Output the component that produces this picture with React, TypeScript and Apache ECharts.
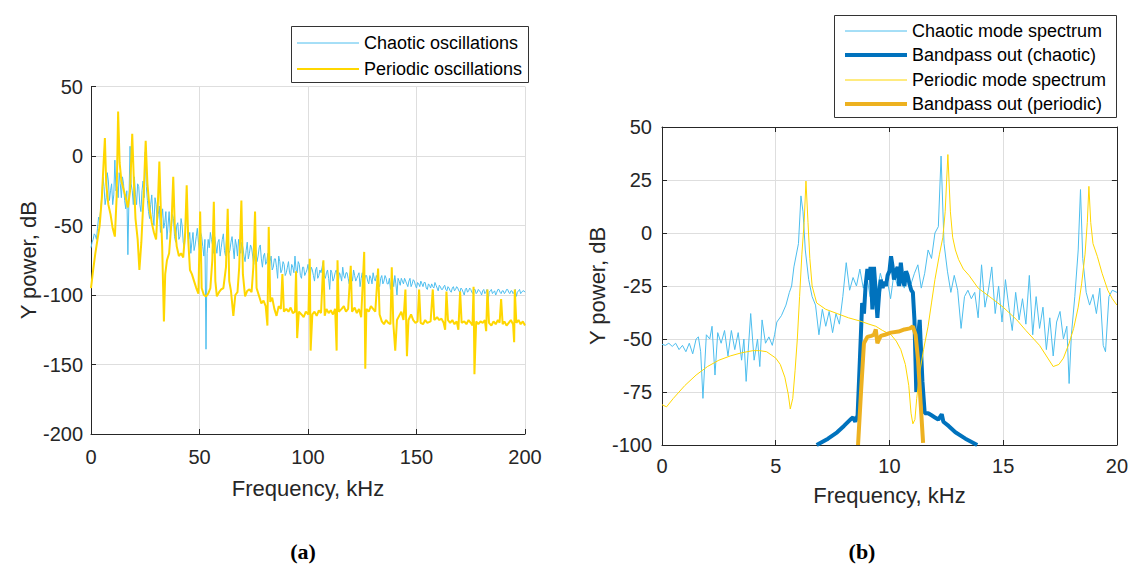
import React, { useEffect, useRef } from "react";
import * as echarts from "echarts";

// ---------- Panel (a): 0–200 kHz ----------
// chaotic spectrum sampled at whole kHz (0..200) and at half kHz (0.5..199.5)
const chaoticA = [
  -66, -60, -57, -52, -46, -28, -22, -30, -18, -25, -35, -3, -22, -12, -30, -20, -38, -71, 7, -25,
  -15, -35, -22, -40, -18, 3, -32, -45, -28, -50, -35, -42, -55, -38, -48, -60, -40, -52, -45, -62,
  -48, -58, -50, -66, -32, -60, -70, -55, -64, -52, -68, -58, -72, -139, -60, -55, -64, -58, -70, -60,
  -66, -56, -72, -62, -68, -58, -74, -64, -60, -70, -66, -76, -62, -70, -66, -78, -68, -72, -64, -80,
  -70, -76, -84, -72, -80, -74, -88, -76, -82, -78, -84, -76, -86, -80, -72, -84, -78, -88, -80, -84,
  -78, -86, -82, -90, -80, -86, -84, -76, -88, -82, -96, -84, -88, -82, -90, -86, -80, -88, -84, -92,
  -86, -82, -90, -86, -94, -84, -90, -86, -92, -88, -84, -90, -88, -94, -86, -90, -88, -92, -96, -88,
  -86, -100, -90, -88, -92, -90, -94, -88, -92, -90, -95, -92, -90, -94, -91, -96, -93, -92, -95, -93,
  -97, -94, -96, -93, -97, -95, -98, -94, -96, -95, -98, -96, -100, -95, -97, -96, -99, -96, -98, -97,
  -100, -96, -98, -104, -97, -99, -97, -98, -96, -99, -97, -98, -96, -99, -97, -98, -101, -97, -99, -97,
  -98,
];
const chaoticAHalf = [
  -62, -56, -60, -44, -38, -15, -35, -12, -32, -20, -28, -25, -30, -20, -15, -32, -25, -30, -20, -35,
  -28, -20, -35, -25, -30, -22, -40, -35, -42, -30, -48, -36, -45, -52, -40, -50, -55, -42, -58, -50,
  -60, -45, -62, -55, -50, -55, -62, -68, -58, -62, -55, -65, -60, -70, -66, -60, -70, -64, -62, -72,
  -60, -68, -58, -70, -62, -66, -60, -72, -66, -62, -72, -68, -74, -64, -72, -70, -76, -66, -74, -72,
  -78, -70, -76, -82, -74, -80, -72, -84, -76, -86, -80, -84, -78, -84, -82, -76, -86, -80, -86, -82,
  -84, -80, -86, -82, -88, -82, -80, -86, -84, -88, -82, -90, -84, -86, -84, -90, -86, -84, -88, -84,
  -90, -86, -88, -84, -88, -92, -86, -90, -86, -92, -88, -86, -92, -88, -92, -86, -92, -88, -90, -94,
  -92, -88, -93, -90, -88, -92, -90, -94, -89, -93, -91, -94, -92, -91, -95, -92, -95, -94, -91, -95,
  -93, -96, -94, -96, -94, -97, -95, -97, -94, -97, -95, -98, -96, -98, -95, -98, -96, -99, -96, -98,
  -97, -99, -96, -98, -96, -98, -100, -96, -98, -97, -99, -96, -98, -97, -99, -96, -98, -96, -98, -97,
];

const periodicA = [
  [0, -95], [1, -82], [2, -70], [3, -60], [4, -50], [5, -30], [5.8, -5], [6.4, 13], [7, -20], [8, -35],
  [9, -42], [10, -52], [11, -58], [11.8, -30], [12.5, 32], [13.2, -5], [14, -18], [15, -24], [16, -30],
  [17, -37], [18, -25], [19, 16], [19.8, -20], [20.5, -45], [21.5, -60], [22.3, -82], [23.2, -62],
  [24.2, -30], [25.2, 11], [26, -20], [27, -38], [28, -48], [29, -55], [30, -60], [30.8, -35], [31.5, -4],
  [32.2, -40], [32.8, -65], [33.6, -119], [34.2, -85], [35, -75], [36, -70], [37.2, -45], [37.9, -15],
  [38.6, -50], [39.5, -65], [40.5, -72], [41.5, -70], [42.5, -73], [43.4, -55], [44.1, -21], [44.8, -60],
  [45.6, -82], [46.5, -85], [47.5, -90], [48.5, -95], [49.5, -99], [50.3, -40], [51, -95], [52, -100],
  [53, -101], [54, -99], [55, -95], [55.9, -75], [56.6, -33], [57.3, -90], [58, -101], [59, -98],
  [60, -96], [61, -95], [62.2, -80], [63, -38], [63.7, -90], [64.5, -97], [65.6, -115], [66.5, -100],
  [67.5, -98], [68.3, -80], [69.3, -32], [70, -85], [71, -101], [72, -97], [73, -96], [74, -98],
  [74.8, -80], [75.6, -40], [76.3, -95], [77.5, -101], [78.5, -106], [79.5, -104], [80.5, -108],
  [81.3, -122], [81.9, -51], [82.6, -105], [83.5, -102], [84.5, -110], [85.5, -115], [86.5, -108],
  [87.5, -110], [88.2, -85], [88.9, -112], [90, -110], [91, -112], [92, -109], [93, -113], [94, -112],
  [94.5, -83], [95, -131], [95.8, -112], [97, -114], [98, -116], [99, -112], [100.2, -114], [100.8, -74],
  [101.2, -140], [102, -114], [103, -112], [104, -115], [105, -111], [106, -113], [107.1, -75],
  [107.7, -115], [108.5, -110], [109.5, -113], [110.5, -111], [111.5, -114], [112.5, -110], [113.2, -140],
  [113.6, -75], [114.2, -112], [115.5, -110], [116.5, -108], [117.5, -112], [118.5, -110], [119.7, -79],
  [120.3, -112], [121.5, -109], [122.5, -113], [123.5, -110], [124.5, -116], [125.9, -69], [126.4, -153],
  [126.9, -110], [128, -112], [129, -108], [130, -110], [131, -112], [132.3, -81], [133, -114], [134, -119],
  [135, -121], [136, -118], [137, -120], [138, -121], [138.6, -80], [139.3, -120], [140.2, -140],
  [141, -118], [142, -115], [143, -112], [144, -118], [144.9, -96], [145.6, -144], [146.3, -118],
  [147.5, -114], [148.5, -118], [149.5, -120], [150.5, -119], [151.2, -96], [151.9, -120], [153, -121],
  [154, -118], [155, -120], [156.5, -119], [157.5, -96], [158.2, -118], [159.5, -116], [160.5, -118],
  [161.5, -117], [162.5, -120], [163.2, -125], [163.8, -97.5], [164.5, -118], [165.5, -120], [166.5, -118],
  [167.5, -121], [168.5, -119], [169.3, -125], [170.1, -97.5], [170.8, -120], [172, -119], [173, -121],
  [174, -118], [175, -120], [175.8, -122], [176.3, -94], [176.7, -157], [177.5, -119], [178.5, -121],
  [179.5, -119], [180.5, -120], [181.5, -118], [182.1, -126], [182.7, -96], [183.4, -120], [184.5, -122],
  [185.5, -119], [186.5, -121], [187.5, -118], [188.3, -120], [189, -103], [189.7, -121], [190.5, -119],
  [191.5, -122], [192.5, -120], [193.5, -118], [194.5, -121], [195, -134], [195.3, -96], [196, -120],
  [197, -118], [198, -121], [199, -119], [200, -122],
];

// ---------- Panel (b): 0–20 kHz ----------
const chaoticB = [
  [0, -52.5], [0.15, -53], [0.3, -52], [0.45, -53.5], [0.6, -52], [0.75, -55], [0.9, -53], [1.05, -56],
  [1.2, -52], [1.35, -57], [1.5, -50], [1.6, -49], [1.7, -56], [1.8, -78], [1.95, -48], [2.1, -50],
  [2.2, -44], [2.33, -67], [2.45, -47], [2.6, -52], [2.75, -46], [2.9, -58], [3.05, -46], [3.2, -55],
  [3.35, -47], [3.5, -60], [3.6, -50], [3.7, -70], [3.9, -38], [4.05, -60], [4.2, -50], [4.3, -63],
  [4.4, -41], [4.55, -52], [4.7, -49], [4.85, -53], [4.95, -48], [5.05, -42], [5.25, -39], [5.45, -34],
  [5.6, -28], [5.7, -25], [5.8, -16], [6.0, -5], [6.11, 17.5], [6.2, 10], [6.3, -8], [6.45, -22],
  [6.6, -30], [6.75, -34], [6.9, -48], [7.05, -36], [7.2, -44], [7.35, -37], [7.5, -47], [7.65, -38],
  [7.8, -43], [7.95, -30], [8.1, -14], [8.25, -27], [8.4, -21], [8.55, -25], [8.7, -17], [8.85, -26],
  [9.0, -20], [9.15, -30], [9.3, -22], [9.45, -28], [9.6, -19], [9.75, -25], [9.9, -22], [10.05, -31],
  [10.2, -19], [10.35, -25], [10.5, -18], [10.65, -26], [10.8, -20], [10.95, -24], [11.1, -19],
  [11.25, -15], [11.4, -26], [11.55, -19], [11.7, -8], [11.85, -12], [12.0, 0], [12.15, 3], [12.27, 36.3],
  [12.4, -5], [12.55, -18], [12.7, -28], [12.85, -20], [13.0, -27], [13.15, -45], [13.3, -30],
  [13.45, -27], [13.6, -31], [13.75, -28], [13.9, -40], [14.05, -15], [14.2, -35], [14.35, -27],
  [14.5, -16], [14.65, -38], [14.8, -25], [14.95, -42], [15.1, -22], [15.25, -35], [15.4, -46],
  [15.55, -28], [15.7, -41], [15.85, -31], [16.0, -43], [16.15, -20], [16.3, -48], [16.45, -30],
  [16.6, -45], [16.75, -35], [16.9, -55], [17.05, -40], [17.2, -58], [17.35, -42], [17.5, -37],
  [17.65, -50], [17.8, -44], [17.9, -71], [18.0, -48], [18.15, -30], [18.3, -8], [18.4, 20.5],
  [18.5, -12], [18.65, -28], [18.8, -34], [18.95, -29], [19.1, -38], [19.25, -26], [19.4, -53],
  [19.5, -56], [19.65, -30], [19.8, -27], [20, -28],
];

const bandChaoticB = [
  [6.8, -100], [7.3, -97], [7.7, -94], [8.0, -91], [8.28, -88], [8.4, -87], [8.5, -89], [8.6, -86],
  [8.7, -60], [8.8, -33], [8.88, -38], [8.95, -25], [9.03, -17], [9.1, -22], [9.17, -16], [9.25, -36],
  [9.32, -16], [9.4, -28], [9.47, -40], [9.55, -28], [9.62, -22], [9.7, -26], [9.77, -23], [9.85, -25],
  [9.92, -20], [10.0, -18], [10.07, -11], [10.14, -16], [10.2, -22], [10.28, -18], [10.36, -16],
  [10.43, -25], [10.5, -14], [10.58, -22], [10.66, -25], [10.73, -18], [10.8, -20], [10.88, -24],
  [10.96, -27], [11.03, -28], [11.1, -41], [11.18, -75], [11.25, -50], [11.33, -41], [11.45, -70],
  [11.55, -85], [11.7, -85], [11.85, -86], [12.0, -87], [12.15, -88], [12.3, -85.5], [12.37, -89],
  [12.6, -91], [12.9, -94], [13.34, -97], [13.86, -100],
];

const periodicB = [
  [0, -81], [0.2, -82], [0.5, -78], [1, -72], [1.5, -67], [2, -63], [2.5, -60], [3, -58], [3.5, -56.5],
  [4, -55.5], [4.3, -55.5], [4.6, -56], [5, -59], [5.2, -62], [5.4, -68], [5.55, -76], [5.64, -83],
  [5.75, -78], [5.85, -65], [5.95, -50], [6.05, -30], [6.15, -10], [6.25, 5], [6.33, 24.5], [6.42, 5],
  [6.5, -12], [6.6, -25], [6.8, -33], [7.2, -36], [7.7, -38], [8.2, -40], [8.7, -41.5], [9.1, -43],
  [9.4, -44], [9.7, -46], [10.07, -48], [10.3, -51], [10.5, -55], [10.7, -62], [10.85, -72], [10.95, -85],
  [11.03, -90], [11.12, -88], [11.2, -78], [11.33, -66], [11.5, -55], [11.7, -44], [11.85, -33],
  [12.0, -22], [12.2, -10], [12.35, -2], [12.45, 10], [12.57, 37], [12.68, 10], [12.78, -2], [12.9, -8],
  [13.04, -12.5], [13.25, -17], [13.5, -20], [13.9, -26], [14.4, -30], [15.0, -35], [15.6, -41],
  [16.0, -46], [16.6, -53], [16.9, -58], [17.2, -63], [17.45, -62], [17.65, -59], [17.9, -52],
  [18.1, -45], [18.3, -35], [18.45, -24], [18.6, -10], [18.7, 5], [18.77, 22], [18.85, 5], [18.95, -5],
  [19.14, -11], [19.35, -19], [19.6, -27], [19.8, -31], [20, -34],
];

const bandPeriodicB = [
  [8.62, -100], [8.75, -75], [8.88, -52], [9.03, -49], [9.2, -48.5], [9.32, -48], [9.4, -45.5],
  [9.47, -52], [9.55, -50], [9.62, -48.5], [9.8, -48], [10.07, -47], [10.4, -46.5], [10.66, -45.5],
  [10.9, -45], [11.03, -44], [11.15, -48], [11.26, -60], [11.37, -80], [11.48, -99],
];

const legendA = ["Chaotic oscillations", "Periodic oscillations"];
const legendB = [
  "Chaotic mode spectrum",
  "Bandpass out (chaotic)",
  "Periodic mode spectrum",
  "Bandpass out (periodic)",
];
const xTitle = "Frequency, kHz";
const yTitle = "Y power, dB";
const panelLabels = ["(a)", "(b)"];

const C_LIGHTBLUE = "#4DBEEE";
const C_BLUE = "#0072BD";
const C_YELLOW = "#FFD700";
const C_ORANGE = "#EDB120";
const AXIS = "#262626";
const GRID = "#DEDEDE";
const FONT = "Liberation Sans, Arial, sans-serif";

export default function App() {
  const ref = useRef<HTMLDivElement>(null);
  useEffect(() => {
    if (!ref.current) return;
    const chart = echarts.init(ref.current, undefined, { renderer: "svg" });

    const axisCommon = (extra: any) => ({
      type: "value",
      axisLine: { show: true, onZero: false, lineStyle: { color: AXIS, width: 1 } },
      axisTick: { show: true, inside: true, length: 5, lineStyle: { color: AXIS } },
      splitLine: { show: true, lineStyle: { color: GRID, width: 1 } },
      axisLabel: { color: AXIS, fontSize: 20, fontFamily: FONT },
      nameTextStyle: { color: AXIS, fontSize: 22, fontFamily: FONT },
      ...extra,
    });

    const boxAxis = (extra: any) => ({
      type: "value",
      axisLine: { show: true, onZero: false, lineStyle: { color: AXIS, width: 1 } },
      axisTick: { show: true, inside: true, length: 5, lineStyle: { color: AXIS } },
      splitLine: { show: false },
      axisLabel: { show: false },
      ...extra,
    });

    const chaoticAData: number[][] = [];
    chaoticA.forEach((v, i) => {
      chaoticAData.push([i, v]);
      if (i < chaoticAHalf.length) chaoticAData.push([i + 0.5, chaoticAHalf[i]]);
    });

    const legendItem = (x: number, y: number, color: string, w: number, text: string) => [
      {
        type: "line",
        shape: { x1: x, y1: y, x2: x + 62, y2: y },
        style: { stroke: color, lineWidth: w },
        z: 101,
      },
      {
        type: "text",
        x: x + 67,
        y: y,
        style: { text, fontSize: 18, fontFamily: FONT, fill: "#000", verticalAlign: "middle", align: "left" },
        z: 101,
      },
    ];

    const option: any = {
      animation: false,
      grid: [
        { left: 91, top: 86.5, width: 434, height: 347.5, containLabel: false },
        { left: 662, top: 127, width: 455, height: 318, containLabel: false },
      ],
      xAxis: [
        axisCommon({
          gridIndex: 0, min: 0, max: 200, interval: 50,
          name: xTitle, nameLocation: "middle", nameGap: 43,
          axisLabel: { color: AXIS, fontSize: 20, fontFamily: FONT, margin: 13 },
        }),
        axisCommon({
          gridIndex: 1, min: 0, max: 20, interval: 5,
          name: xTitle, nameLocation: "middle", nameGap: 39,
          axisLabel: { color: AXIS, fontSize: 20, fontFamily: FONT, margin: 11 },
        }),
        boxAxis({ gridIndex: 1, min: 0, max: 20, interval: 5, position: "top" }),
      ],
      yAxis: [
        axisCommon({
          gridIndex: 0, min: -200, max: 50, interval: 50,
          name: yTitle, nameLocation: "middle", nameGap: 52,
          axisLabel: { color: AXIS, fontSize: 20, fontFamily: FONT, margin: 8 },
        }),
        axisCommon({
          gridIndex: 1, min: -100, max: 50, interval: 25,
          name: yTitle, nameLocation: "middle", nameGap: 51,
          axisLabel: { color: AXIS, fontSize: 20, fontFamily: FONT, margin: 10 },
        }),
        boxAxis({ gridIndex: 1, min: -100, max: 50, interval: 25, position: "right" }),
      ],
      series: [
        {
          name: legendA[0], type: "line", xAxisIndex: 0, yAxisIndex: 0, data: chaoticAData,
          symbol: "none", lineStyle: { color: C_LIGHTBLUE, width: 1 }, itemStyle: { color: C_LIGHTBLUE },
        },
        {
          name: legendA[1], type: "line", xAxisIndex: 0, yAxisIndex: 0, data: periodicA,
          symbol: "none", lineStyle: { color: C_YELLOW, width: 2 }, itemStyle: { color: C_YELLOW },
        },
        {
          name: legendB[0], type: "line", xAxisIndex: 1, yAxisIndex: 1, data: chaoticB,
          symbol: "none", lineStyle: { color: C_LIGHTBLUE, width: 1 }, itemStyle: { color: C_LIGHTBLUE },
        },
        {
          name: legendB[1], type: "line", xAxisIndex: 1, yAxisIndex: 1, data: bandChaoticB,
          symbol: "none", lineStyle: { color: C_BLUE, width: 4 }, itemStyle: { color: C_BLUE },
        },
        {
          name: legendB[2], type: "line", xAxisIndex: 1, yAxisIndex: 1, data: periodicB,
          symbol: "none", lineStyle: { color: C_YELLOW, width: 1 }, itemStyle: { color: C_YELLOW },
        },
        {
          name: legendB[3], type: "line", xAxisIndex: 1, yAxisIndex: 1, data: bandPeriodicB,
          symbol: "none", lineStyle: { color: C_ORANGE, width: 4 }, itemStyle: { color: C_ORANGE },
        },
      ],
      graphic: [
        {
          type: "rect", shape: { x: 291.5, y: 26.5, width: 237, height: 56 },
          style: { fill: "#fff", stroke: "#333", lineWidth: 1 }, z: 100,
        },
        ...legendItem(297, 43, C_LIGHTBLUE, 1, legendA[0]),
        ...legendItem(297, 69, C_YELLOW, 2, legendA[1]),
        {
          type: "rect", shape: { x: 834.5, y: 15.5, width: 282, height: 102 },
          style: { fill: "#fff", stroke: "#333", lineWidth: 1 }, z: 100,
        },
        ...legendItem(845, 31, C_LIGHTBLUE, 1, legendB[0]),
        ...legendItem(845, 55, C_BLUE, 4, legendB[1]),
        ...legendItem(845, 80, C_YELLOW, 1, legendB[2]),
        ...legendItem(845, 104, C_ORANGE, 4, legendB[3]),
        {
          type: "text", x: 303, y: 551,
          style: { text: panelLabels[0], fontSize: 22, fontWeight: "bold", fontFamily: "Liberation Serif, serif", fill: "#000", align: "center", verticalAlign: "middle" },
        },
        {
          type: "text", x: 862, y: 551,
          style: { text: panelLabels[1], fontSize: 22, fontWeight: "bold", fontFamily: "Liberation Serif, serif", fill: "#000", align: "center", verticalAlign: "middle" },
        },
      ],
    };

    chart.setOption(option);
    return () => chart.dispose();
  }, []);

  return (
    <div
      ref={ref}
      style={{ position: "absolute", left: 0, top: 0, width: 1131, height: 566, background: "#fff" }}
    />
  );
}
